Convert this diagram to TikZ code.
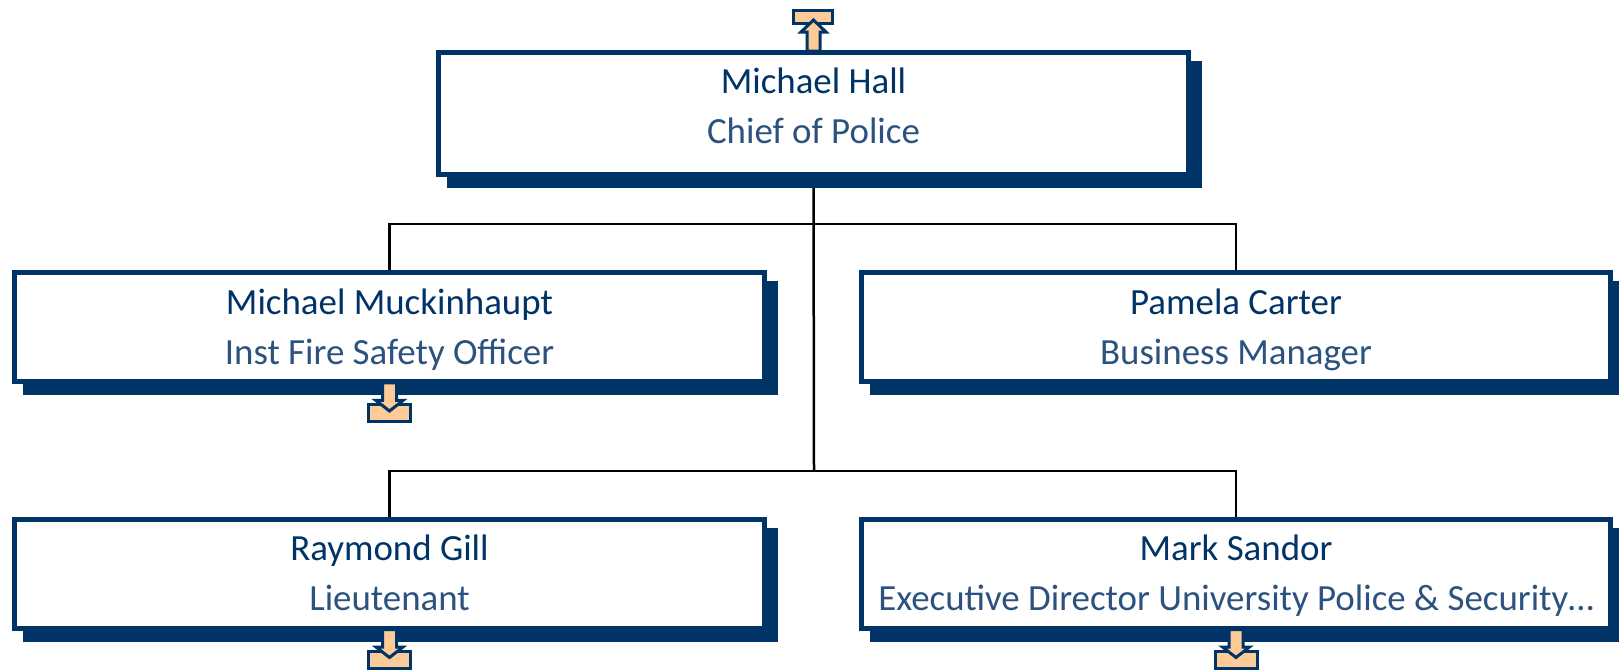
\documentclass[tikz,border=0pt]{standalone}
\usepackage{fontspec}
\setmainfont{Carlito}
\usetikzlibrary{calc,backgrounds}
\definecolor{navy}{RGB}{0,51,102}
\definecolor{titleblue}{RGB}{44,82,128}
\definecolor{peach}{RGB}{252,203,152}
\begin{document}
\begin{tikzpicture}[x=0.02cm, y=-0.02cm,
		box/.style={draw=navy, line width=0.1cm, fill=white, outer sep=0pt, inner sep=0pt,
			minimum width=15cm, minimum height=2.18cm,
			preaction={draw=navy, fill=navy, transform canvas={shift={(11,11)}}}},
		personname/.style={anchor=base, inner sep=0pt, text=navy, font=\fontsize{21}{25}\selectfont},
		jobtitle/.style={anchor=base, inner sep=0pt, text=titleblue, font=\fontsize{21}{25}\selectfont},
		link/.style={line width=0.05cm, black},
		tab/.style={draw=navy, fill=peach, line width=0.06cm, line join=miter},
		tabdown/.pic={
			\draw[tab] (-21,20.5) rectangle (21,37.5);
			\draw[tab] (-7,-1) -- (7,-1) -- (7,16.5) -- (13.5,16.5) -- (0,27) -- (-13.5,16.5) -- (-7,16.5) -- cycle;
		},
		tabup/.pic={
			\draw[tab] (-20,-39.5) rectangle (19,-26.5);
			\draw[tab] (-6.5,1) -- (6.5,1) -- (6.5,-18) -- (12.5,-18) -- (0,-30) -- (-12.5,-18) -- (-6.5,-18) -- cycle;
		}]
	\useasboundingbox (0,0) rectangle (1619,670);

	% boxes
	\node[box, minimum height=2.44cm] (hall) at (813.5,113.5) {};
	\node[box] (muck) at (389.5,327) {};
	\node[box] (carter) at (1236,327) {};
	\node[box] (gill) at (389.5,573.5) {};
	\node[box] (sandor) at (1236,573.5) {};

	% names and titles
	\node[personname] (hallname) at ($(hall.north)+(0,40.5)$) {Michael Hall};
	\node[jobtitle] (halltitle) at ($(hall.north)+(0,90.5)$) {Chief of Police};
	\node[personname] (muckname) at ($(muck.north)+(0,41.5)$) {Michael Muckinhaupt};
	\node[jobtitle] (mucktitle) at ($(muck.north)+(0,91.5)$) {Inst Fire Safety Officer};
	\node[personname] (cartername) at ($(carter.north)+(0,41.5)$) {Pamela Carter};
	\node[jobtitle] (cartertitle) at ($(carter.north)+(0,91.5)$) {Business Manager};
	\node[personname] (gillname) at ($(gill.north)+(0,41.5)$) {Raymond Gill};
	\node[jobtitle] (gilltitle) at ($(gill.north)+(0,91.5)$) {Lieutenant};
	\node[personname] (sandorname) at ($(sandor.north)+(0,41.5)$) {Mark Sandor};
	\node[jobtitle] (sandortitle) at ($(sandor.north)+(0,91.5)$) {Executive Director University Police \& Security…};

	% connectors
	\coordinate (upper) at (814,224);
	\coordinate (lower) at (814,471);
	\begin{pgfonlayer}{background}
		\draw[link] (hall.south) -- (lower);
		\draw[link] (muck.north) |- (upper) -| (carter.north);
		\draw[link] (gill.north) |- (lower) -| (sandor.north);
	\end{pgfonlayer}

	% expand tabs
	\pic at ($(hall.north)+(0,-2.5)$) {tabup};
	\pic at ($(muck.south)+(0,2.5)$) {tabdown};
	\pic at ($(gill.south)+(0,2.5)$) {tabdown};
	\pic at ($(sandor.south)+(0,2.5)$) {tabdown};
\end{tikzpicture}
\end{document}
